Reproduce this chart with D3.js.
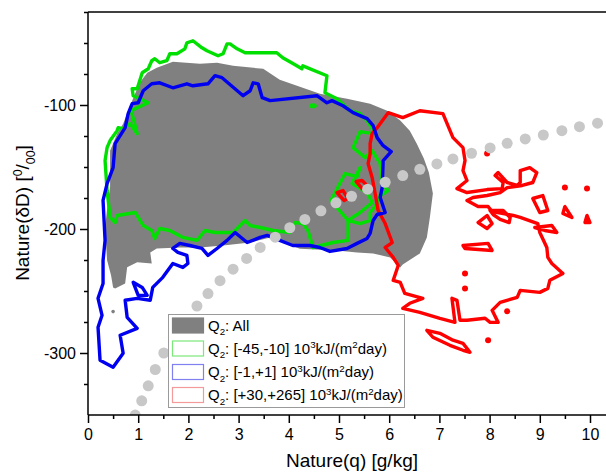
<!DOCTYPE html>
<html>
<head>
<meta charset="utf-8">
<title>Nature(q) vs Nature(dD)</title>
<script src="https://d3js.org/d3.v7.min.js"></script>
<style>
  body { margin: 0; background: #fff; }
  text { font-family: "Liberation Sans", Arial, sans-serif; fill: #000; }
</style>
</head>
<body>
<div id="chart"></div>
<script>
// axis ticks
const qTicks = [0, 1, 2, 3, 4, 5, 6, 7, 8, 9, 10];
const qMinor = [0.5, 1.5, 2.5, 3.5, 4.5, 5.5, 6.5, 7.5, 8.5, 9.5];
const dTicks = [-300, -200, -100];
const dMinor = [-325, -275, -250, -225, -175, -150, -125, -75, -50, -25];

// Q2: All  (filled area)  [q, dD]
const grayAll = [
  [0.50,-247.1],[0.46,-237.4],[0.38,-225.3],[0.34,-198.8],[0.40,-177.0],[0.44,-166.6],[0.44,-136.8],
  [0.58,-123.1],[0.70,-115.1],[0.88,-96.5],[0.98,-86.9],[1.06,-80.4],[1.18,-74.0],[1.37,-70.0],
  [1.69,-65.1],[2.23,-66.8],[2.57,-65.9],[2.89,-68.4],[3.49,-70.8],[3.82,-79.6],[4.22,-85.3],
  [4.62,-90.9],[5.16,-94.9],[5.62,-98.9],[5.96,-104.6],[6.22,-112.6],[6.41,-120.7],[6.55,-131.2],
  [6.69,-143.2],[6.79,-154.5],[6.87,-171.4],[6.81,-190.7],[6.75,-206.8],[6.61,-219.7],[6.27,-228.6],
  [6.22,-231.0],[6.02,-222.9],[5.68,-219.7],[5.36,-218.9],[4.96,-217.3],[4.22,-216.0],[3.63,-206.8],
  [3.23,-210.8],[2.69,-213.3],[2.23,-214.9],[1.83,-214.9],[1.37,-215.7],[1.24,-218.9],[1.27,-227.8],
  [0.98,-226.9],[0.78,-230.9],[0.74,-243.9],[0.54,-247.9]
];
const grayDots = [[0.50,-266.6]];

// Q2: [-45,-10]
const greenMain = [
  [0.44,-190.7],[0.38,-169.0],[0.34,-144.8],[0.38,-134.4],[0.44,-128.7],[0.58,-120.7],[0.60,-118.3],
  [0.70,-119.1],[0.84,-115.1],[0.98,-123.1],[0.86,-104.6],[0.98,-102.2],[1.20,-98.2],[0.90,-92.5],
  [0.88,-86.9],[0.98,-86.9],[1.08,-74.0],[1.20,-70.8],[1.27,-64.3],[1.33,-62.7],[1.43,-65.9],
  [1.57,-64.3],[1.63,-58.7],[1.77,-58.7],[1.93,-54.7],[1.97,-49.9],[2.09,-48.2],[2.27,-53.9],
  [2.37,-56.3],[2.59,-60.3],[2.69,-58.7],[2.77,-50.7],[2.83,-50.7],[2.97,-54.7],[3.13,-57.9],
  [3.76,-57.9],[3.88,-61.9],[4.16,-68.4],[4.26,-70.8],[4.28,-68.4],[4.76,-76.4],[4.72,-90.1],
  [4.96,-94.9],[5.22,-104.6],[5.42,-107.0],[5.56,-112.6],[5.66,-119.1],[5.68,-123.1],[5.42,-121.5],
  [5.28,-134.4],[5.52,-142.4],[5.66,-136.8],[5.82,-147.3],[5.86,-163.4],[5.98,-169.0],[5.82,-173.0],
  [5.76,-179.5],[5.62,-186.7],[5.62,-193.1],[5.42,-195.6],[5.18,-193.1],[5.18,-209.2],[4.88,-210.9],
  [4.48,-214.9],[4.38,-201.2],[4.28,-195.6],[4.12,-194.8],[4.02,-202.8],[3.69,-201.2],[3.43,-198.8],
  [3.23,-197.2],[3.13,-193.1],[2.89,-202.8],[2.53,-202.8],[2.33,-201.2],[2.17,-209.2],[1.89,-206.8],
  [1.63,-201.2],[1.43,-199.6],[1.33,-207.6],[1.27,-201.2],[1.10,-197.2],[0.94,-186.7],[0.58,-189.1],
  [0.54,-194.8]
];
const greenInner = [
  [4.84,-177.0],[5.12,-155.3],[5.36,-157.7],[5.42,-150.5],[5.26,-163.4],[5.56,-170.6],[5.66,-178.6],
  [5.42,-186.7],[5.18,-193.1],[4.92,-181.0]
];
const greenDots = [[4.48,-100.6]];

// Q2: [-1,+1]
const blueMain = [
  [0.54,-131.2],[0.74,-118.3],[0.80,-107.0],[0.88,-98.9],[1.00,-98.2],[1.10,-88.5],[1.27,-82.9],
  [1.43,-82.1],[1.69,-86.1],[1.97,-82.9],[2.09,-84.5],[2.39,-82.9],[2.53,-76.4],[2.67,-78.0],
  [3.09,-92.5],[3.23,-88.5],[3.29,-82.1],[3.39,-82.9],[3.47,-94.1],[3.63,-96.5],[4.56,-92.5],
  [4.76,-98.2],[4.86,-96.5],[5.08,-100.6],[5.28,-106.2],[5.56,-111.0],[5.68,-116.7],[5.76,-126.3],
  [5.88,-132.8],[6.04,-137.6],[5.88,-144.8],[5.86,-166.6],[5.82,-174.6],[5.92,-186.7],[5.76,-188.3],
  [5.68,-193.1],[5.62,-203.6],[5.56,-207.6],[5.36,-211.6],[5.16,-215.7],[4.82,-218.1],[4.62,-214.9],
  [4.42,-213.3],[4.08,-213.3],[3.82,-209.2],[3.57,-205.2],[3.43,-206.8],[3.17,-210.9],[2.93,-202.8],
  [2.77,-209.2],[2.57,-215.7],[2.39,-221.3],[2.27,-215.7],[2.03,-213.3],[1.83,-211.6],[1.69,-215.7],
  [1.79,-218.9],[1.97,-221.3],[1.99,-227.8],[1.89,-231.0],[1.69,-227.8],[1.49,-239.0],[1.29,-247.1],
  [1.24,-257.5],[0.98,-255.9],[0.74,-257.5],[0.78,-271.2],[0.98,-280.1],[0.64,-285.7],[0.70,-300.2],
  [0.50,-311.5],[0.24,-305.8],[0.20,-279.3],[0.28,-269.6],[0.20,-255.9],[0.30,-243.9],[0.30,-225.3],
  [0.34,-209.2],[0.30,-177.0],[0.38,-163.4],[0.50,-150.5]
];
const blueLoop = [[0.90,-243.0],[1.08,-247.1],[1.18,-253.5],[1.00,-253.5]];

// Q2: [+30,+265]
const redMain = [
  [5.76,-118.3],[5.98,-106.2],[6.27,-110.2],[6.61,-104.6],[7.07,-107.0],[7.27,-126.3],[7.47,-134.4],
  [7.51,-144.8],[7.47,-152.9],[7.55,-160.9],[7.35,-167.4],[7.55,-170.6],[7.95,-168.2],[8.25,-167.4],
  [8.27,-162.5],[8.11,-156.9],[8.17,-154.5],[8.35,-162.5],[8.55,-164.9],[8.61,-162.5],[8.61,-152.9],
  [8.80,-150.5],[8.94,-154.5],[8.86,-162.5],[8.65,-164.9],[8.35,-166.6],[8.21,-170.6],[7.95,-173.0],
  [7.67,-174.6],[7.55,-177.0],[7.77,-181.9],[7.97,-181.9],[8.05,-185.9],[8.47,-189.1],[8.61,-190.7],
  [8.96,-195.6],[9.00,-202.8],[9.14,-214.9],[9.16,-222.9],[9.24,-227.8],[9.46,-235.8],[9.20,-241.4],
  [9.16,-247.9],[9.00,-251.1],[8.61,-249.5],[8.55,-255.1],[8.21,-259.2],[8.05,-265.6],[8.17,-275.3],
  [8.01,-275.3],[7.91,-272.0],[7.55,-273.6],[7.41,-273.6],[7.35,-257.5],[7.25,-255.9],[7.31,-275.3],
  [7.01,-272.0],[6.61,-267.2],[6.27,-264.0],[6.41,-259.9],[6.67,-255.9],[6.31,-251.9],[6.22,-243.0],
  [6.08,-241.4],[6.18,-229.4],[6.08,-222.9],[5.92,-214.9],[6.06,-210.9],[5.92,-195.6],[5.78,-185.1],
  [5.72,-171.4],[5.66,-158.5],[5.58,-147.3],[5.62,-139.2],[5.62,-131.2],[5.66,-123.1]
];
const redLoops = [
  [[8.01,-185.1],[8.27,-185.1],[8.41,-190.7],[8.39,-194.8],[8.21,-192.3],[8.07,-188.3]],
  [[7.77,-194.8],[7.95,-189.1],[8.05,-195.6],[7.95,-199.6]],
  [[7.47,-213.3],[7.97,-211.6],[8.05,-217.3],[7.51,-215.7]],
  [[8.86,-175.4],[9.06,-173.0],[9.16,-185.1],[9.00,-186.7]],
  [[9.50,-181.9],[9.46,-187.5],[9.64,-190.7]],
  [[9.94,-189.1],[9.90,-194.8],[10.00,-194.8]],
  [[8.90,-198.8],[9.24,-197.2],[9.34,-202.8],[9.10,-201.2]],
  [[6.75,-281.7],[7.01,-284.1],[7.27,-289.7],[7.47,-292.2],[7.61,-299.4],[7.47,-297.8],[7.21,-293.8],[6.87,-287.3]],
  [[4.96,-170.6],[5.08,-169.0],[5.18,-175.4],[5.10,-177.0]],
  [[5.34,-161.7],[5.46,-160.9],[5.58,-165.8],[5.46,-167.4]]
];
const redDots = [[9.50,-166.6],[9.94,-167.4],[7.95,-139.2],[7.51,-235.8],[7.51,-247.9],[7.97,-289.7],[8.35,-266.4]];

// grey dotted curve
const curveQ = [0.94, 1.07, 1.20, 1.34, 1.51, 2.17, 2.39, 2.63, 2.89, 3.16, 3.43, 3.73, 4.02, 4.32,
  4.64, 4.94, 5.25, 5.57, 5.92, 6.27, 6.61, 6.95, 7.27, 7.64, 8.01, 8.35, 8.71, 9.07, 9.44, 9.79, 10.15];
const curveD = [-350.1, -338.6, -326.5, -313.3, -300.0, -262.1, -252.1, -241.7, -232.4, -223.7, -214.9,
  -206.6, -199.0, -192.3, -185.3, -178.9, -173.6, -167.9, -162.3, -156.9, -151.9, -147.5, -143.5,
  -138.9, -134.6, -130.9, -127.4, -124.2, -120.7, -117.5, -114.7];

// legend
const legendLabels = [
  [{t: "Q"}, {t: "2", s: "sub"}, {t: ": All"}],
  [{t: "Q"}, {t: "2", s: "sub"}, {t: ": [-45,-10] 10"}, {t: "3", s: "sup"}, {t: "kJ/(m"}, {t: "2", s: "sup"}, {t: "day)"}],
  [{t: "Q"}, {t: "2", s: "sub"}, {t: ": [-1,+1] 10"}, {t: "3", s: "sup"}, {t: "kJ/(m"}, {t: "2", s: "sup"}, {t: "day)"}],
  [{t: "Q"}, {t: "2", s: "sub"}, {t: ": [+30,+265] 10"}, {t: "3", s: "sup"}, {t: "kJ/(m"}, {t: "2", s: "sup"}, {t: "day)"}]
];

const W = 606, H = 474;
const plotLeft = 88, plotTop = 12, plotBottom = 415;

const svg = d3.select("#chart").append("svg")
  .attr("width", W).attr("height", H);

const x = d3.scaleLinear().domain([0, 10.5]).range([plotLeft, plotLeft + 10.5 * 50.2]);
const y = d3.scaleLinear().domain([-350, -25]).range([plotBottom, plotTop]);

svg.append("defs").append("clipPath").attr("id", "plot")
  .append("rect").attr("x", plotLeft).attr("y", plotTop)
  .attr("width", x(10.5) - plotLeft).attr("height", plotBottom - plotTop);

const g = svg.append("g").attr("clip-path", "url(#plot)");
const line = d3.line().x(d => x(d[0])).y(d => y(d[1]));
const closed = pts => line(pts) + "Z";

// filled area
g.append("path").attr("d", closed(grayAll)).attr("fill", "#808080");
g.selectAll(".gdot").data(grayDots).enter().append("circle")
  .attr("cx", d => x(d[0])).attr("cy", d => y(d[1])).attr("r", 1.8).attr("fill", "#808080");

function contour(pts, color) {
  g.append("path").attr("d", closed(pts))
    .attr("fill", "none").attr("stroke", color)
    .attr("stroke-width", 3.4).attr("stroke-linejoin", "round");
}

contour(greenMain, "#00e000");
contour(greenInner, "#00e000");
g.selectAll(".grdot").data(greenDots).enter().append("ellipse")
  .attr("cx", d => x(d[0])).attr("cy", d => y(d[1])).attr("rx", 4).attr("ry", 2.6).attr("fill", "#00e000");

contour(redMain, "#ff0000");
redLoops.forEach(l => contour(l, "#ff0000"));
g.selectAll(".rdot").data(redDots).enter().append("circle")
  .attr("cx", d => x(d[0])).attr("cy", d => y(d[1])).attr("r", 3).attr("fill", "#ff0000");

contour(blueMain, "#0000f0");
contour(blueLoop, "#0000f0");

// dotted curve
g.selectAll(".cdot").data(curveQ).enter().append("circle")
  .attr("cx", d => x(d)).attr("cy", (d, i) => y(curveD[i]))
  .attr("r", 5.5).attr("fill", "#c8c8c8");

// axes
const fmt = d => String(d);
svg.append("g").attr("transform", "translate(0," + plotBottom + ")")
  .call(d3.axisBottom(x).tickValues(qTicks).tickSize(8).tickPadding(6).tickFormat(fmt));
svg.append("g").attr("transform", "translate(0," + plotBottom + ")")
  .call(d3.axisBottom(x).tickValues(qMinor).tickSize(4).tickFormat(""));
svg.append("g").attr("transform", "translate(" + plotLeft + ",0)")
  .call(d3.axisLeft(y).tickValues(dTicks).tickSize(8).tickPadding(4).tickFormat(fmt));
svg.append("g").attr("transform", "translate(" + plotLeft + ",0)")
  .call(d3.axisLeft(y).tickValues(dMinor).tickSize(4).tickFormat(""));

svg.selectAll(".domain").remove();
svg.selectAll(".tick line").attr("stroke", "#000").attr("stroke-width", 1.5);
svg.selectAll(".tick text").style("font-size", "16px")
  .style("font-family", "'Liberation Sans', Arial, sans-serif");

// frame
svg.append("line").attr("x1", plotLeft).attr("x2", W).attr("y1", plotTop).attr("y2", plotTop)
  .attr("stroke", "#000").attr("stroke-width", 1.5);
svg.append("line").attr("x1", plotLeft).attr("x2", plotLeft).attr("y1", plotTop).attr("y2", plotBottom)
  .attr("stroke", "#000").attr("stroke-width", 1.5);
svg.append("line").attr("x1", plotLeft).attr("x2", W).attr("y1", plotBottom).attr("y2", plotBottom)
  .attr("stroke", "#000").attr("stroke-width", 1.5);

function richText(sel, parts, size) {
  let shift = 0;
  parts.forEach(p => {
    const target = p.s === "sub" ? size * 0.3 : p.s === "sup" ? -size * 0.38 : 0;
    const ts = sel.append("tspan").text(p.t).attr("dy", target - shift);
    if (p.s) ts.style("font-size", (size * 0.65) + "px");
    shift = target;
  });
}

// axis titles
svg.append("text").attr("x", 352).attr("y", 467).attr("text-anchor", "middle")
  .style("font-size", "19px").text("Nature(q) [g/kg]");

const yt = svg.append("text").attr("transform", "translate(29,213) rotate(-90)")
  .attr("text-anchor", "middle").style("font-size", "19px");
richText(yt, [{t: "Nature(δD) ["}, {t: "0", s: "sup"}, {t: "/"}, {t: "00", s: "sub"}, {t: "]"}], 19);

// legend
const lg = svg.append("g");
lg.append("rect").attr("x", 168.5).attr("y", 314.5).attr("width", 236).attr("height", 93)
  .attr("fill", "#fff").attr("stroke", "#9a9a9a").attr("stroke-width", 1);
const swFill = ["#808080", "none", "none", "none"];
const swStroke = ["#808080", "#7ce87c", "#8080f0", "#f59a9a"];
const rowY = [325.5, 348.5, 372, 395];
legendLabels.forEach((parts, i) => {
  lg.append("rect").attr("x", 172.5).attr("y", rowY[i] - 7.5).attr("width", 31).attr("height", 15)
    .attr("fill", swFill[i]).attr("stroke", swStroke[i]).attr("stroke-width", 1.2);
  const t = lg.append("text").attr("x", 208).attr("y", rowY[i] + 5.3).style("font-size", "15px");
  richText(t, parts, 15);
});
</script>
</body>
</html>
